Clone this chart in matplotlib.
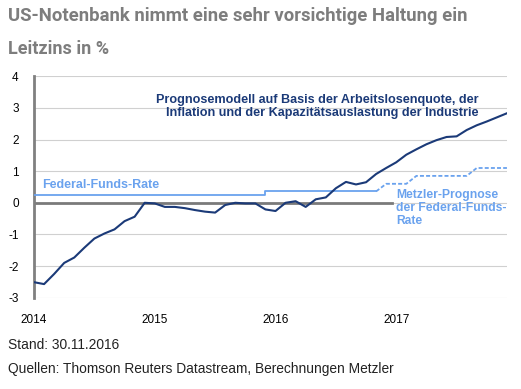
import matplotlib
matplotlib.use("Agg")
import matplotlib.pyplot as plt

# Monatswerte Jan 2014 .. Dez 2017 (Index 0..47)
modell = [-2.51, -2.57, -2.25, -1.90, -1.73, -1.42, -1.13, -0.97, -0.84, -0.58,
          -0.44, 0.00, -0.02, -0.13, -0.13, -0.17, -0.23, -0.28, -0.31, -0.07,
          0.00, -0.02, -0.02, -0.21, -0.26, 0.00, 0.05, -0.13, 0.11, 0.17,
          0.46, 0.66, 0.58, 0.65, 0.91, 1.10, 1.28, 1.52, 1.69, 1.85,
          1.98, 2.08, 2.10, 2.30, 2.45, 2.57, 2.70, 2.83]
fed_funds = [0.25] * 23 + [0.36] * 12
prognose = [0.36, 0.60, 0.60, 0.60, 0.85, 0.85, 0.85, 0.85, 0.85, 0.85, 1.10, 1.10, 1.10, 1.10]
jahre = ["2014", "2015", "2016", "2017"]
yticks = [-3, -2, -1, 0, 1, 2, 3, 4]

plt.rcParams['font.family'] = ['Liberation Sans', 'DejaVu Sans']

navy = "#1b3a78"
hellblau = "#6aa2ee"
grau = "#7d7d7d"

fig = plt.figure(figsize=(5.21, 3.89), dpi=100)
ax = fig.add_axes([0.0653, 0.2347, 0.9077, 0.5693])

x_modell = list(range(len(modell)))
x_fed = list(range(len(fed_funds)))
x_prog = list(range(len(fed_funds) - 1, len(fed_funds) - 1 + len(prognose)))

ax.plot(x_fed, fed_funds, color=hellblau, lw=1.3, drawstyle="steps-post", zorder=3)
ax.plot(x_prog, prognose, color=hellblau, lw=1.3, ls=(0, (2.2, 1.2)), zorder=3)
ax.plot(x_modell, modell, color=navy, lw=1.5, zorder=4)
ax.axhline(0, color="#7a7a7a", lw=2, xmax=(35.6 / 47), zorder=2)

ax.set_xlim(0, 47)
ax.set_ylim(-3, 4)
ax.set_yticks(yticks)
ax.set_yticklabels([str(v) for v in yticks])
ax.set_xticks([0, 12, 24, 36])
ax.set_xticklabels(jahre)
ax.tick_params(axis="both", length=0, labelsize=8.5, colors="black")
ax.tick_params(axis="y", pad=11)
ax.tick_params(axis="x", pad=12)
ax.grid(axis="y", color="#d0d0d0", lw=0.8)
ax.set_axisbelow(True)
for s in ["top", "right", "bottom"]:
    ax.spines[s].set_visible(False)
ax.spines["left"].set_color("#808080")
ax.spines["left"].set_linewidth(2)

ax.text(44.2, 3.03, "Prognosemodell auf Basis der Arbeitslosenquote, der\n"
        "Inflation und der Kapazitätsauslastung der Industrie",
        ha="right", va="center", color=navy, fontsize=9.1, fontweight="bold",
        linespacing=1.1)
ax.text(0.8, 0.55, "Federal-Funds-Rate", ha="left", va="center",
        color=hellblau, fontsize=9, fontweight="bold")
ax.text(36.0, 0.45, "Metzler-Prognose\nder Federal-Funds-\nRate", ha="left", va="top",
        color=hellblau, fontsize=8.7, fontweight="bold", linespacing=1.15)

fig.text(0.015, 0.958, "US-Notenbank nimmt eine sehr vorsichtige Haltung ein",
         family=['Roboto', 'DejaVu Sans'], fontweight="bold", fontsize=13.3,
         color=grau, va="center", ha="left")
fig.text(0.015, 0.875, "Leitzins in %", family=['Roboto', 'DejaVu Sans'],
         fontweight="bold", fontsize=13, color=grau, va="center", ha="left")
fig.text(0.015, 0.113, "Stand: 30.11.2016", fontsize=9.9, color="#222222",
         va="center", ha="left")
fig.text(0.015, 0.052, "Quellen: Thomson Reuters Datastream, Berechnungen Metzler",
         fontsize=9.9, color="#222222", va="center", ha="left")

fig.savefig("out.png", dpi=100)
